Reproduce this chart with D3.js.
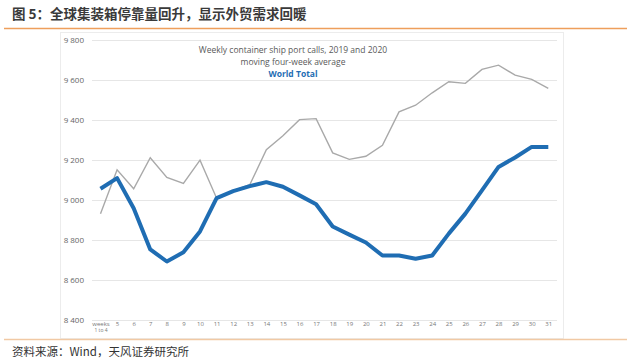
<!DOCTYPE html>
<html>
<head>
<meta charset="utf-8">
<script src="https://cdn.jsdelivr.net/npm/d3@7"></script>
<style>
  body { margin: 0; background: #fff; }
  svg { display: block; font-family: "Open Sans", "Liberation Sans", sans-serif; }
</style>
</head>
<body>
<svg width="627" height="363"></svg>
<script>
const weeks = ['weeks', '5', '6', '7', '8', '9', '10', '11', '12', '13', '14', '15', '16', '17', '18',
  '19', '20', '21', '22', '23', '24', '25', '26', '27', '28', '29', '30', '31'];
const calls2019 = [8930, 9150, 9055, 9210, 9112, 9082, 9198, 9008, 9045, 9075, 9250, 9320, 9400, 9405,
  9234, 9202, 9217, 9272, 9439, 9472, 9534, 9589, 9581, 9651, 9672, 9622, 9601, 9556];
const calls2020 = [9055, 9108, 8958, 8752, 8692, 8738, 8842, 9008, 9043, 9068, 9088, 9065, 9022, 8978,
  8867, 8826, 8787, 8722, 8722, 8706, 8722, 8831, 8931, 9047, 9164, 9211, 9264, 9264];
const yTicks = [8400, 8600, 8800, 9000, 9200, 9400, 9600, 9800];

const svg = d3.select('svg');

// page title + rules
svg.append('text')
  .attr('x', 12).attr('y', 19)
  .attr('font-family', '"Noto Sans CJK SC", sans-serif')
  .attr('font-size', 13.5).attr('font-weight', 'bold')
  .attr('fill', '#3a3a3a')
  .text('图 5：全球集装箱停靠量回升，显示外贸需求回暖');

svg.append('line')
  .attr('x1', 4).attr('x2', 627).attr('y1', 28.5).attr('y2', 28.5)
  .attr('stroke', '#ee9f5c').attr('stroke-width', 1.5);

// chart frame
svg.append('rect')
  .attr('x', 60.5).attr('y', 32.5).attr('width', 503).attr('height', 306)
  .attr('fill', 'none').attr('stroke', '#ececec');

svg.append('line')
  .attr('x1', 4).attr('x2', 627).attr('y1', 339.5).attr('y2', 339.5)
  .attr('stroke', '#f1c9a4').attr('stroke-width', 1.5);

svg.append('text')
  .attr('x', 12).attr('y', 356)
  .attr('font-family', '"Noto Sans CJK SC", sans-serif')
  .attr('font-size', 11.5).attr('fill', '#333')
  .text('资料来源：Wind，天风证券研究所');

const x = d3.scalePoint().domain(weeks).range([100.5, 548.3]);
const y = d3.scaleLinear().domain([8400, 9800]).range([320, 39.5]);

// gridlines
svg.append('g').selectAll('line').data(yTicks).enter().append('line')
  .attr('x1', 92).attr('x2', 557)
  .attr('y1', d => Math.round(y(d)) + 0.5).attr('y2', d => Math.round(y(d)) + 0.5)
  .attr('stroke', '#e6e6e6').attr('stroke-width', 1);

// y axis labels
const yAxis = d3.axisLeft(y).tickValues(yTicks).tickSize(0).tickPadding(0)
  .tickFormat(d => d3.format(',')(d).replace(',', ' '));
const yAxisG = svg.append('g').attr('transform', 'translate(84,0)').call(yAxis);
yAxisG.select('.domain').remove();
yAxisG.selectAll('text').attr('font-size', 8).attr('fill', '#666')
  .attr('font-family', '"Open Sans", sans-serif');

// x axis labels
const xAxis = d3.axisBottom(x).tickSize(0).tickPadding(0);
const xAxisG = svg.append('g').attr('transform', 'translate(0,322)').call(xAxis);
xAxisG.select('.domain').remove();
xAxisG.selectAll('text').attr('font-size', 6).attr('fill', '#777')
  .attr('font-family', '"Open Sans", sans-serif');
xAxisG.selectAll('.tick').filter(d => d === 'weeks').select('text')
  .text(null)
  .call(t => {
    t.append('tspan').attr('x', 0).attr('dy', '0.71em').text('weeks');
    t.append('tspan').attr('x', 0).attr('dy', '1.1em').attr('font-size', 5).text('1 to 4');
  });

// lines
const line = d3.line().x((d, i) => x(weeks[i])).y(d => y(d));

svg.append('path').datum(calls2019)
  .attr('d', line).attr('fill', 'none')
  .attr('stroke', '#a9a9a9').attr('stroke-width', 1.4);

svg.append('path').datum(calls2020)
  .attr('d', line).attr('fill', 'none')
  .attr('stroke', '#1f6db3').attr('stroke-width', 4)
  .attr('stroke-linejoin', 'round');

// inner chart title
const t = svg.append('g').attr('text-anchor', 'middle')
  .attr('font-family', '"Open Sans", sans-serif').attr('font-size', 8.5);
t.append('text').attr('x', 293).attr('y', 53).attr('fill', '#595959')
  .text('Weekly container ship port calls, 2019 and 2020');
t.append('text').attr('x', 293).attr('y', 65).attr('fill', '#595959')
  .text('moving four-week average');
t.append('text').attr('x', 293).attr('y', 77).attr('fill', '#1f6db3').attr('font-weight', 'bold')
  .text('World Total');
</script>
</body>
</html>
